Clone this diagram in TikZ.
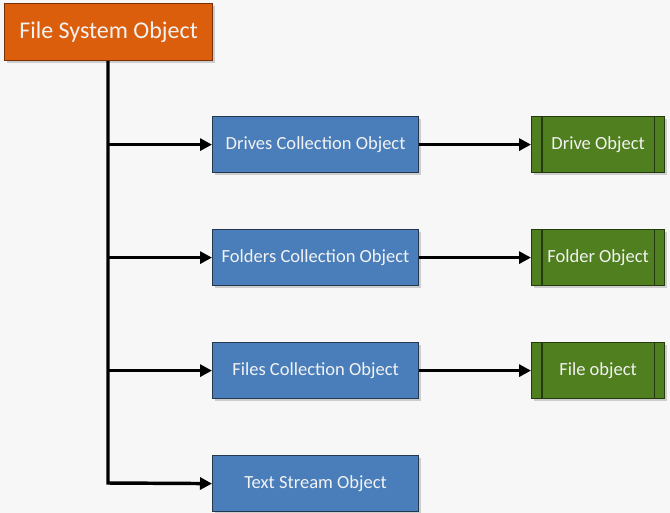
\documentclass[tikz,border=0pt]{standalone}
\usepackage{fontspec}
\setmainfont{Carlito}
\usetikzlibrary{arrows.meta,shadows}
\definecolor{bgc}{HTML}{F7F7F7}
\definecolor{orfill}{HTML}{DA5E0C}
\definecolor{orline}{HTML}{7A2E05}
\definecolor{blfill}{HTML}{4A7EBB}
\definecolor{blline}{HTML}{23384F}
\definecolor{grfill}{HTML}{4F7F1E}
\definecolor{grline}{HTML}{233A0C}
\definecolor{txt}{HTML}{F2F2F2}
\tikzset{
  box/.style={draw, line width=0.9pt, text=txt, inner sep=0pt, anchor=north west,
    drop shadow={shadow xshift=1.5pt, shadow yshift=-1.5pt, opacity=0.35}},
  rootbox/.style={box, fill=orfill, draw=orline, minimum width=156pt, minimum height=42.75pt, font=\fontsize{18}{21}\selectfont},
  collbox/.style={box, fill=blfill, draw=blline, minimum width=154.5pt, minimum height=42pt, font=\fontsize{13.9}{16}\selectfont},
  objbox/.style={box, fill=grfill, draw=grline, minimum width=99.75pt, minimum height=42pt, font=\fontsize{13.9}{16}\selectfont},
  conn/.style={line width=2.6pt, -{Triangle[length=9pt,width=9pt]}},
  trunk/.style={line width=2.6pt}
}
\begin{document}
\begin{tikzpicture}[x=0.75pt,y=-0.75pt]
\fill[bgc] (0,0) rectangle (670,513);
\useasboundingbox (0,0) rectangle (670,513);
\node[rootbox] (fso) at (4,3) {File System Object};
\node[collbox] (drives) at (212,116) {Drives Collection Object};
\node[collbox] (folders) at (212,229) {Folders Collection Object};
\node[collbox] (files) at (212,342) {Files Collection Object};
\node[collbox] (ts) at (212,455) {Text Stream Object};
\node[objbox] (drive) at (531,116) {Drive Object};
\node[objbox] (folder) at (531,229) {Folder Object};
\node[objbox] (file) at (531,342) {File object};
\foreach \n in {drive,folder,file}{
  \draw[grline, line width=0.8pt] ([xshift=8.25pt]\n.north west) -- ([xshift=8.25pt]\n.south west);
  \draw[grline, line width=0.8pt] ([xshift=-8.25pt]\n.north east) -- ([xshift=-8.25pt]\n.south east);
}
\coordinate (tb) at (108,483);
\draw[conn] (fso.south -| tb) -- (tb) -- (ts.west);
\draw[conn] (tb |- drives.west) -- (drives.west);
\draw[conn] (tb |- folders.west) -- (folders.west);
\draw[conn] (tb |- files.west) -- (files.west);
\draw[conn] (drives.east) -- (drive.west);
\draw[conn] (folders.east) -- (folder.west);
\draw[conn] (files.east) -- (file.west);
\end{tikzpicture}
\end{document}
